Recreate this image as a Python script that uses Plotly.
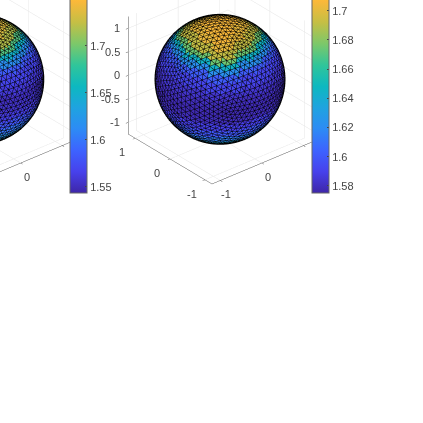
import numpy as np
import plotly.graph_objects as go

# colour bands: sphere height (bottom to top) -> value
band_z = [-1.0, -0.85, -0.7, -0.55, -0.4, -0.25, -0.1, 0.05, 0.2, 0.35, 0.5, 0.6, 0.68, 0.74, 0.8, 0.88, 0.95]
left_values = [1.66, 1.64, 1.62, 1.60, 1.58, 1.565, 1.555, 1.552, 1.56, 1.57, 1.585, 1.615, 1.65, 1.69, 1.72, 1.735, 1.745]
right_values = [1.65, 1.635, 1.615, 1.60, 1.59, 1.58, 1.578, 1.58, 1.584, 1.592, 1.602, 1.622, 1.645, 1.675, 1.692, 1.702, 1.706]
# height offset of the colour bands around the sphere, from the uneven edge of the top cap
sector_shift = [0.0, 0.06, 0.0, -0.03, 0.0, 0.03, 0.0, -0.03, 0.0, -0.03]

left_ticks = [1.55, 1.6, 1.65, 1.7, 1.75]
right_ticks = [1.58, 1.6, 1.62, 1.64, 1.66, 1.68, 1.7]
z_ticks = [-1, -0.5, 0, 0.5, 1]
xy_ticks = [-1, 0, 1]
x_labels = [-1, 0]  # the label for 1 sits behind the colour bar

parula = [[0.0, "#3e26a8"], [0.1, "#4741ec"], [0.2, "#3d63ff"], [0.3, "#2d8bf5"], [0.4, "#1fa3e0"],
          [0.5, "#0db8c0"], [0.6, "#30c59a"], [0.7, "#7cc86a"], [0.8, "#c4bf45"], [0.9, "#fbb83a"], [1.0, "#f9fb15"]]

AZ = np.radians(40)
EL = np.radians(30)
RADIUS = 1.19
TEXT = "#444444"
SCENE_SCALE = 1.18
PX_UNIT = 0.0085  # scene units per screen pixel, set from test renders
XY_LIM = 1.2
Z_LIM = 1.25


def icosphere(freq):
    t = (1 + 5 ** 0.5) / 2
    corners = np.array([(-1, t, 0), (1, t, 0), (-1, -t, 0), (1, -t, 0), (0, -1, t), (0, 1, t),
                        (0, -1, -t), (0, 1, -t), (t, 0, -1), (t, 0, 1), (-t, 0, -1), (-t, 0, 1)], dtype=float)
    base = [(0, 11, 5), (0, 5, 1), (0, 1, 7), (0, 7, 10), (0, 10, 11), (1, 5, 9), (5, 11, 4), (11, 10, 2),
            (10, 7, 6), (7, 1, 8), (3, 9, 4), (3, 4, 2), (3, 2, 6), (3, 6, 8), (3, 8, 9), (4, 9, 5),
            (2, 4, 11), (6, 2, 10), (8, 6, 7), (9, 8, 1)]
    index = {}
    verts = []
    faces = []

    def vert(p):
        p = p / np.linalg.norm(p)
        key = tuple(np.round(p, 6))
        if key not in index:
            index[key] = len(verts)
            verts.append(p)
        return index[key]

    for a, b, c in base:
        A, B, C = corners[a], corners[b], corners[c]
        for r in range(freq):
            for s in range(freq - r):
                p = [A + (B - A) * r / freq + (C - A) * s / freq,
                     A + (B - A) * (r + 1) / freq + (C - A) * s / freq,
                     A + (B - A) * r / freq + (C - A) * (s + 1) / freq]
                faces.append(tuple(vert(q) for q in p))
                if r + s < freq - 1:
                    q4 = A + (B - A) * (r + 1) / freq + (C - A) * (s + 1) / freq
                    faces.append((vert(p[1]), vert(q4), vert(p[2])))
    return np.array(verts), np.array(faces)


verts, faces = icosphere(14)
pts = verts * RADIUS
right_vec = np.array([np.cos(AZ), -np.sin(AZ), 0])
up_vec = np.array([np.sin(AZ) * np.sin(EL), np.cos(AZ) * np.sin(EL), np.cos(EL)])
view_dir = np.array([-np.sin(AZ) * np.cos(EL), -np.cos(AZ) * np.cos(EL), np.sin(EL)])


def camera(dx, dy):
    center = -PX_UNIT * (dx * right_vec + dy * up_vec)
    eye = center + 2.0 * view_dir
    return dict(eye=dict(zip("xyz", eye)), center=dict(zip("xyz", center)), up=dict(x=0, y=0, z=1),
                projection=dict(type="orthographic"))


def axis(ticks, lim):
    return dict(range=[-lim, lim], tickvals=ticks, showticklabels=False, title="", showbackground=False,
                showgrid=True, gridcolor="#e4e4e4", gridwidth=1, showline=True, linecolor="#555555", linewidth=1,
                zeroline=False, ticks="outside", ticklen=3, tickcolor="#555555", showspikes=False)


def labels():
    out = []
    for v in z_ticks:
        out.append(dict(x=-XY_LIM, y=XY_LIM, z=v, text=f"{v:g}", showarrow=False, xanchor="right", xshift=-6))
    for v in x_labels:
        out.append(dict(x=v, y=-XY_LIM, z=-Z_LIM, text=f"{v:g}", showarrow=False, yshift=-14, xshift=6))
    for v in xy_ticks:
        out.append(dict(x=-XY_LIM, y=v, z=-Z_LIM, text=f"{v:g}", showarrow=False, yshift=-14, xshift=-13))
    for a in out:
        a["font"] = dict(family="Liberation Sans", size=11, color=TEXT)
    return out


def sphere_traces(scene, values, ticks, cmin, cmax, bar_x):
    centers = verts[faces].mean(axis=1)
    sector = ((np.degrees(np.arctan2(centers[:, 1], centers[:, 0])) + 180) // 36).astype(int) % 10
    face_z = centers[:, 2] + np.array(sector_shift)[sector] * (centers[:, 2] > 0.3)
    idx = np.clip(np.digitize(face_z, band_z) - 1, 0, len(values) - 1)
    mesh = go.Mesh3d(x=pts[:, 0], y=pts[:, 1], z=pts[:, 2], i=faces[:, 0], j=faces[:, 1], k=faces[:, 2],
                     intensity=np.array(values)[idx], intensitymode="cell", cmin=cmin, cmax=cmax,
                     colorscale=parula, flatshading=True, scene=scene,
                     lighting=dict(ambient=1, diffuse=0, specular=0, roughness=1, fresnel=0),
                     colorbar=dict(x=bar_x, xanchor="left", y=1 + 20 / 423, yanchor="top", len=213, lenmode="pixels",
                                   thickness=17, thicknessmode="pixels", tickvals=ticks, ticks="inside", ticklen=2,
                                   tickcolor="#444444", outlinecolor="#666666", outlinewidth=1, xpad=0, ypad=0,
                                   tickfont=dict(family="Liberation Sans", size=11, color=TEXT)))
    ex, ey, ez = [], [], []
    seen = set()
    for f in faces:
        for a, b in ((f[0], f[1]), (f[1], f[2]), (f[2], f[0])):
            key = (min(a, b), max(a, b))
            if key in seen:
                continue
            seen.add(key)
            pa, pb = pts[a] * 1.004, pts[b] * 1.004
            ex += [pa[0], pb[0], None]
            ey += [pa[1], pb[1], None]
            ez += [pa[2], pb[2], None]
    edges = go.Scatter3d(x=ex, y=ey, z=ez, mode="lines", line=dict(color="#000000", width=1), scene=scene,
                         hoverinfo="skip", showlegend=False)
    t = np.linspace(0, 2 * np.pi, 200)
    rim = RADIUS * 1.006 * (np.outer(np.cos(t), right_vec) + np.outer(np.sin(t), up_vec))
    outline = go.Scatter3d(x=rim[:, 0], y=rim[:, 1], z=rim[:, 2], mode="lines", line=dict(color="#000000", width=2),
                           scene=scene, hoverinfo="skip", showlegend=False)
    return [mesh, edges, outline]


fig = go.Figure()
for tr in sphere_traces("scene", left_values, left_ticks, 1.5436, 1.77, 69.5 / 423):
    fig.add_trace(tr)
for tr in sphere_traces("scene2", right_values, right_ticks, 1.5752, 1.721, 311.5 / 423):
    fig.add_trace(tr)

scene_common = dict(xaxis=axis(xy_ticks, XY_LIM), yaxis=axis(xy_ticks, XY_LIM), zaxis=axis(z_ticks, Z_LIM),
                    aspectmode="manual",
                    aspectratio=dict(x=SCENE_SCALE * XY_LIM / Z_LIM, y=SCENE_SCALE * XY_LIM / Z_LIM, z=SCENE_SCALE),
                    annotations=labels(), bgcolor="rgba(0,0,0,0)")
fig.update_layout(width=423, height=423, margin=dict(l=0, r=0, t=0, b=0, autoexpand=False), paper_bgcolor="white",
                  showlegend=False,
                  scene=dict(domain=dict(x=[0, 115 / 423], y=[193 / 423, 1]), camera=camera(-80.5, 36.5), **scene_common),
                  scene2=dict(domain=dict(x=[115 / 423, 325 / 423], y=[193 / 423, 1]), camera=camera(0, 36.5), **scene_common))
fig.write_html("out.html", post_script="document.body.style.margin='0';", config=dict(displayModeBar=False))
